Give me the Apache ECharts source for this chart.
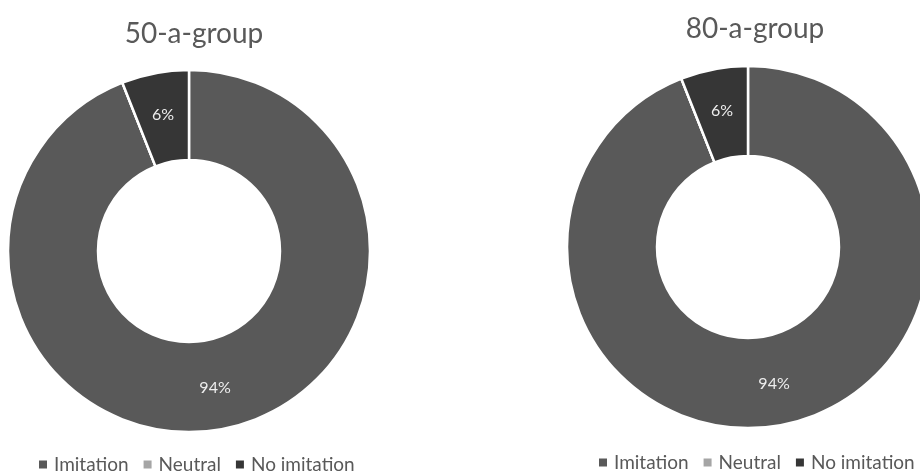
<!DOCTYPE html>
<html>
<head>
<meta charset="utf-8">
<script src="https://cdn.jsdelivr.net/npm/echarts@6/dist/echarts.min.js"></script>
<style>
  html, body { margin: 0; padding: 0; background: #fff; }
  #chart { width: 920px; height: 475px; }
</style>
</head>
<body>
<div id="chart"></div>
<script>
// Response categories and their shares (percent) for each group
const categories = ['Imitation', 'Neutral', 'No imitation'];
const groupNames = ['50-a-group', '80-a-group'];
const group50 = [94, 0, 6];
const group80 = [94, 0, 6];

const colors = ['#595959', '#a5a5a5', '#363636'];
const font = 'Lato, "Open Sans", sans-serif';

function buildData(values) {
  return categories.map((name, i) => ({
    name: name,
    value: values[i],
    label: { show: values[i] > 0 }
  }));
}

function ringSeries(title, values, center) {
  return {
    name: title,
    type: 'pie',
    center: center,
    radius: [91, 181],
    startAngle: 90,
    clockwise: true,
    avoidLabelOverlap: false,
    itemStyle: { borderColor: '#ffffff', borderWidth: 2.5 },
    label: {
      position: 'inside',
      formatter: '{c}%',
      color: '#eeeeee',
      fontFamily: font,
      fontSize: 16
    },
    labelLine: { show: false },
    emphasis: { disabled: true },
    data: buildData(values)
  };
}

function legendAt(left, top) {
  return {
    left: left, top: top, icon: 'rect', itemWidth: 10, itemHeight: 10, itemGap: 13,
    data: categories, selectedMode: false,
    textStyle: { color: '#595959', fontFamily: font, fontSize: 19, padding: [0, 0, 0, 1] }
  };
}

const chart = echarts.init(document.getElementById('chart'), null, { renderer: 'canvas' });
chart.setOption({
  animation: false,
  color: colors,
  title: [
    { text: groupNames[0], left: 189, top: 15, textAlign: 'center',
      textStyle: { color: '#595959', fontFamily: font, fontSize: 28, fontWeight: 'normal' } },
    { text: groupNames[1], left: 750, top: 10, textAlign: 'center',
      textStyle: { color: '#595959', fontFamily: font, fontSize: 28, fontWeight: 'normal' } }
  ],
  legend: [legendAt(32, 450), legendAt(592, 448)],
  series: [
    ringSeries(groupNames[0], group50, [189, 251]),
    ringSeries(groupNames[1], group80, [748, 247])
  ]
});
</script>
</body>
</html>
